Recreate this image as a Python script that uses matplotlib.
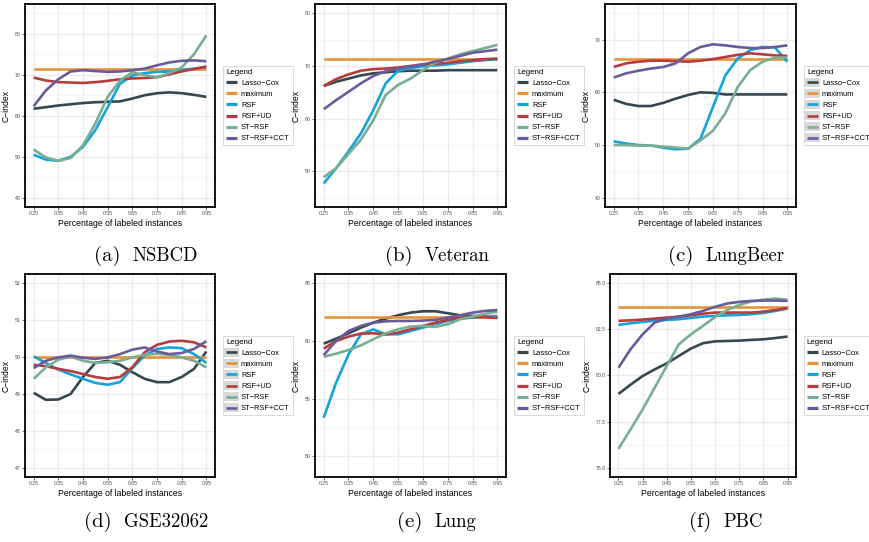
import numpy as np
import matplotlib
matplotlib.use("Agg")
import matplotlib.pyplot as plt
from matplotlib.ticker import MultipleLocator, FormatStrFormatter
from matplotlib.legend_handler import HandlerLine2D
from matplotlib.patches import Rectangle

# ------------------------------------------------------------
#  data, x = fraction of labeled instances
# ------------------------------------------------------------
x_vals = [0.25, 0.30, 0.35, 0.40, 0.45, 0.50, 0.55, 0.60,
          0.65, 0.70, 0.75, 0.80, 0.85, 0.90, 0.95]

methods = ["Lasso\u2212Cox", "maximum", "RSF", "RSF+UD", "ST\u2212RSF", "ST\u2212RSF+CCT"]
colors = ["#34484F", "#E8923A", "#14A3DB", "#B63C3D", "#79AE93", "#6A5B9B"]

# (a) NSBCD
nsbcd_lasso = [61.7, 62.1, 62.5, 62.8, 63.1, 63.3, 63.4, 63.5, 64.2, 65.0, 65.5, 65.7, 65.5, 65.1, 64.6]
nsbcd_max = 71.5
nsbcd_rsf = [50.5, 49.3, 49.0, 50.0, 52.4, 56.5, 62.1, 67.8, 69.8, 70.4, 70.7, 70.8, 71.1, 71.5, 71.9]
nsbcd_rsfud = [69.3, 68.6, 68.2, 68.1, 68.0, 68.2, 68.5, 68.9, 69.1, 69.2, 69.4, 70.1, 70.8, 71.4, 72.0]
nsbcd_st = [51.8, 49.8, 49.0, 49.7, 52.8, 58.1, 64.6, 68.6, 70.6, 69.9, 69.4, 70.4, 71.8, 75.0, 79.6]
nsbcd_cct = [62.3, 66.2, 68.9, 70.8, 71.1, 70.9, 70.7, 70.8, 71.1, 71.5, 72.3, 73.0, 73.4, 73.5, 73.3]

# (b) Veteran
vet_lasso = [66.2, 67.0, 67.6, 68.2, 68.6, 68.8, 69.0, 69.1, 69.1, 69.1, 69.2, 69.2, 69.2, 69.2, 69.2]
vet_max = 71.4
vet_rsf = [47.7, 50.6, 53.8, 57.2, 61.6, 66.7, 69.1, 69.6, 69.9, 70.1, 70.3, 70.6, 70.9, 71.1, 71.3]
vet_rsfud = [66.2, 67.5, 68.4, 69.1, 69.4, 69.5, 69.7, 70.0, 70.3, 70.4, 70.6, 70.9, 71.1, 71.3, 71.4]
vet_st = [48.9, 50.6, 53.3, 56.0, 59.7, 64.5, 66.4, 67.6, 69.2, 70.6, 71.4, 72.2, 72.8, 73.4, 74.0]
vet_cct = [61.8, 63.5, 65.1, 66.7, 68.1, 69.0, 69.5, 69.9, 70.3, 70.8, 71.3, 71.9, 72.5, 72.8, 73.1]

# (c) LungBeer
lb_lasso = [58.6, 57.8, 57.4, 57.4, 58.0, 58.8, 59.5, 60.0, 59.9, 59.6, 59.6, 59.6, 59.6, 59.6, 59.6]
lb_max = 66.4
lb_rsf = [50.7, 50.3, 50.0, 49.9, 49.5, 49.2, 49.3, 51.2, 57.2, 63.2, 66.4, 68.0, 68.6, 68.5, 65.8]
lb_rsfud = [64.8, 65.5, 65.8, 66.0, 66.0, 65.9, 65.8, 66.0, 66.3, 66.7, 67.1, 67.4, 67.2, 67.0, 66.9]
lb_st = [50.0, 50.0, 49.9, 49.9, 49.7, 49.5, 49.3, 50.9, 52.7, 56.0, 61.0, 64.2, 65.8, 66.6, 66.6]
lb_cct = [62.8, 63.6, 64.1, 64.5, 64.8, 65.5, 67.4, 68.6, 69.1, 68.9, 68.6, 68.4, 68.4, 68.6, 68.9]

# (d) GSE32062
gse_lasso = [49.03, 48.84, 48.85, 49.00, 49.46, 49.84, 49.90, 49.79, 49.59, 49.41, 49.32, 49.32, 49.46, 49.68, 50.15]
gse_max = 50.0
gse_rsf = [50.02, 49.84, 49.66, 49.53, 49.41, 49.30, 49.25, 49.32, 49.70, 50.04, 50.22, 50.26, 50.24, 50.08, 49.84]
gse_rsfud = [49.79, 49.75, 49.68, 49.62, 49.54, 49.46, 49.41, 49.46, 49.72, 50.13, 50.33, 50.42, 50.44, 50.40, 50.26]
gse_st = [49.41, 49.72, 49.93, 50.01, 49.90, 49.84, 49.86, 49.90, 49.99, 50.06, 50.09, 50.06, 49.99, 49.90, 49.72]
gse_cct = [49.70, 49.90, 49.99, 50.04, 49.98, 49.95, 49.99, 50.08, 50.20, 50.26, 50.15, 50.08, 50.11, 50.22, 50.43]

# (e) Lung
lung_lasso = [59.76, 60.19, 60.66, 61.15, 61.58, 61.93, 62.22, 62.45, 62.57, 62.57, 62.40, 62.22, 62.16, 62.11, 62.02]
lung_max = 62.05
lung_rsf = [53.33, 56.37, 58.83, 60.57, 61.00, 60.57, 60.57, 60.86, 61.15, 61.44, 61.73, 61.93, 62.02, 62.11, 62.16]
lung_rsfud = [59.33, 59.99, 60.37, 60.63, 60.66, 60.57, 60.72, 61.00, 61.30, 61.58, 61.82, 62.02, 62.08, 62.05, 61.99]
lung_st = [58.63, 58.89, 59.21, 59.61, 60.14, 60.66, 61.00, 61.24, 61.30, 61.21, 61.44, 61.87, 62.11, 62.34, 62.54]
lung_cct = [58.77, 59.99, 60.86, 61.30, 61.58, 61.70, 61.73, 61.73, 61.76, 61.82, 62.02, 62.22, 62.45, 62.60, 62.68]

# (f) PBC
pbc_lasso = [79.0, 79.5, 79.97, 80.33, 80.66, 81.06, 81.46, 81.75, 81.85, 81.87, 81.89, 81.93, 81.96, 82.03, 82.11]
pbc_max = 83.72
pbc_rsf = [82.74, 82.83, 82.90, 82.97, 83.01, 83.05, 83.12, 83.19, 83.23, 83.26, 83.28, 83.32, 83.39, 83.50, 83.63]
pbc_rsfud = [82.96, 82.99, 83.03, 83.08, 83.14, 83.19, 83.26, 83.35, 83.41, 83.41, 83.41, 83.41, 83.46, 83.55, 83.66]
pbc_st = [76.03, 77.08, 78.16, 79.34, 80.52, 81.69, 82.23, 82.69, 83.17, 83.55, 83.82, 84.01, 84.11, 84.17, 84.10]
pbc_cct = [80.42, 81.42, 82.23, 82.87, 83.08, 83.19, 83.32, 83.50, 83.72, 83.90, 83.99, 84.04, 84.06, 84.06, 84.04]

# y ticks of each panel
ticks_a = [40, 50, 60, 70, 80]
ticks_b = [50, 60, 70, 80]
ticks_c = [40, 50, 60, 70]
ticks_d = [47, 48, 49, 50, 51, 52]
ticks_e = [50, 55, 60, 65]
ticks_f = [75, 77.5, 80, 82.5, 85]

# ------------------------------------------------------------
#  settings
# ------------------------------------------------------------
plt.rcParams['font.family'] = ['Liberation Sans', 'DejaVu Sans']
W, H = 870, 542


class GreyKeyHandler(HandlerLine2D):
    # legend key with ggplot-like grey background
    def create_artists(self, legend, orig_handle, xdescent, ydescent,
                       width, height, fontsize, trans):
        arts = super().create_artists(legend, orig_handle, xdescent, ydescent,
                                      width, height, fontsize, trans)
        pad = 0.25 * fontsize
        bg = Rectangle((-xdescent - 1.5, -ydescent - pad), width + 3, height + 2 * pad,
                       facecolor="#D9D9D9", edgecolor="none", transform=trans)
        return [bg] + arts


def rect(x0, x1, y0, y1):
    return [x0 / W, 1 - y1 / H, (x1 - x0) / W, (y1 - y0) / H]


def panel(fig, box, series, maxval, ylo, yhi, ticks, yfmt, grey_keys=False):
    ax = fig.add_axes(rect(*box))
    ys = [series[0], [maxval] * len(x_vals)] + series[1:]
    lines = []
    for y, c, m in zip(ys, colors, methods):
        ln, = ax.plot(x_vals, y, color=c, lw=1.9, label=m, solid_capstyle='butt')
        lines.append(ln)

    pad = 0.05 * (yhi - ylo)
    ax.set_ylim(ylo - pad, yhi + pad)
    ax.set_xlim(0.25 - 0.035, 0.95 + 0.035)
    ax.set_xticks(np.arange(0.25, 0.951, 0.1))
    ax.xaxis.set_major_formatter(FormatStrFormatter('%.2f'))
    ax.xaxis.set_minor_locator(MultipleLocator(0.1, offset=0.05))
    step = ticks[1] - ticks[0]
    ax.set_yticks(ticks)
    ax.yaxis.set_major_formatter(FormatStrFormatter(yfmt))
    ax.yaxis.set_minor_locator(MultipleLocator(step, offset=step / 2))

    ax.grid(True, which='major', color='#EBEBEB', lw=0.9)
    ax.grid(True, which='minor', color='#F2F2F2', lw=0.5)
    ax.set_axisbelow(True)
    ax.tick_params(which='major', labelsize=3.7, labelcolor='#4D4D4D', color='#333333',
                   length=2, width=0.5, pad=1.2)
    ax.tick_params(which='minor', length=0)
    for s in ax.spines.values():
        s.set_linewidth(1.3)
        s.set_color('black')

    ax.set_xlabel('Percentage of labeled instances', fontsize=6.2, labelpad=1.5)
    ax.set_ylabel('C\u2212index', fontsize=6.2, labelpad=3)

    hmap = {ln: GreyKeyHandler() for ln in lines} if grey_keys else None
    leg = ax.legend(handles=lines, title='Legend', loc='center left',
                    bbox_to_anchor=(1.022, 0.5), fontsize=5.4, title_fontsize=5.7,
                    frameon=True, fancybox=False, edgecolor='#CCCCCC',
                    handlelength=1.5, handletextpad=0.5, labelspacing=0.52,
                    borderpad=0.4, handler_map=hmap)
    leg._legend_box.align = 'left'
    leg.get_frame().set_linewidth(0.6)
    for h in leg.legend_handles:
        h.set_linewidth(2.3)
    return ax


fig = plt.figure(figsize=(W / 100, H / 100), dpi=100)

panel(fig, (25, 215, 4, 207), [nsbcd_lasso, nsbcd_rsf, nsbcd_rsfud, nsbcd_st, nsbcd_cct],
      nsbcd_max, 40, 85, ticks_a, '%d')
panel(fig, (315, 506, 4, 207), [vet_lasso, vet_rsf, vet_rsfud, vet_st, vet_cct],
      vet_max, 45, 80, ticks_b, '%d')
panel(fig, (605, 796, 4, 207), [lb_lasso, lb_rsf, lb_rsfud, lb_st, lb_cct],
      lb_max, 40, 75, ticks_c, '%d', grey_keys=True)
panel(fig, (25, 215, 274, 477), [gse_lasso, gse_rsf, gse_rsfud, gse_st, gse_cct],
      gse_max, 47, 52, ticks_d, '%d', grey_keys=True)
panel(fig, (315, 506, 274, 477), [lung_lasso, lung_rsf, lung_rsfud, lung_st, lung_cct],
      lung_max, 49, 65, ticks_e, '%d')
panel(fig, (610, 796, 274, 477), [pbc_lasso, pbc_rsf, pbc_rsfud, pbc_st, pbc_cct],
      pbc_max, 75, 85, ticks_f, '%.1f')

# captions
captions = [("(a)", "NSBCD", 146, 256), ("(b)", "Veteran", 437, 256), ("(c)", "LungBeer", 726, 256),
            ("(d)", "GSE32062", 146, 522), ("(e)", "Lung", 437, 522), ("(f)", "PBC", 726, 522)]
renderer = fig.canvas.get_renderer()
for lab, name, cx, cy in captions:
    t1 = fig.text(0, 1 - cy / H, lab, fontsize=15, family='cmr10', va='center', ha='left')
    t2 = fig.text(0, 1 - cy / H, name, fontsize=13.5, family='cmr10', va='center', ha='left')
    w1 = t1.get_window_extent(renderer).width
    w2 = t2.get_window_extent(renderer).width
    gap = 12
    x0 = cx - (w1 + gap + w2) / 2
    t1.set_x(x0 / W)
    t2.set_x((x0 + w1 + gap) / W)

fig.savefig('out.png', dpi=100)
